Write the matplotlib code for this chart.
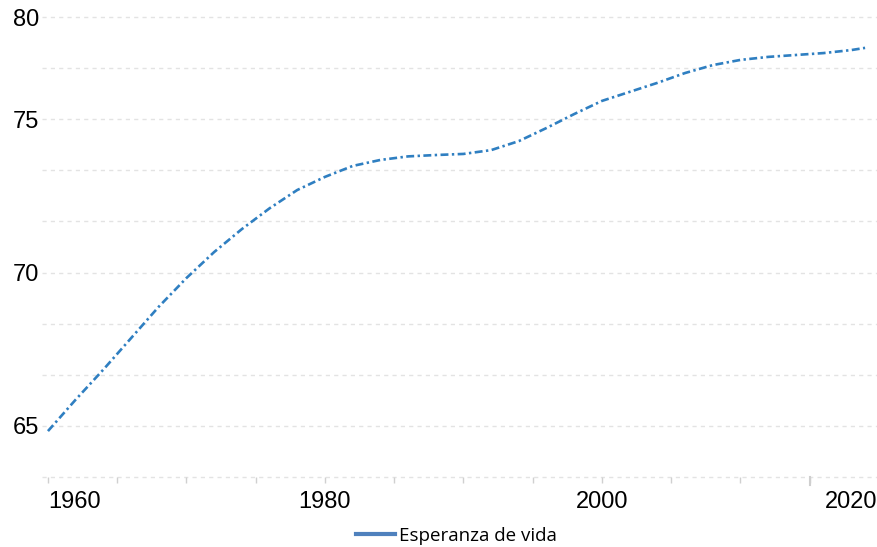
import numpy as np
import matplotlib
matplotlib.use("Agg")
import matplotlib.pyplot as plt

# Datos: esperanza de vida (años)
years = [1960, 1962, 1964, 1966, 1968, 1970, 1972, 1974, 1976, 1978,
         1980, 1982, 1984, 1986, 1988, 1990, 1992, 1994, 1996, 1998,
         2000, 2002, 2004, 2006, 2008, 2010, 2012, 2014, 2016, 2018, 2019]
life_exp = [64.85, 66.0, 67.1, 68.25, 69.4, 70.45, 71.4, 72.24, 73.0, 73.67,
            74.15, 74.55, 74.77, 74.9, 74.95, 74.99, 75.13, 75.46, 75.94, 76.45,
            76.93, 77.26, 77.59, 77.95, 78.24, 78.43, 78.54, 78.61, 78.68, 78.79, 78.87]
series_name = 'Esperanza de vida'

# Etiquetas del eje y tal como aparecen (sobre las líneas de la rejilla 0, 2, 5, 8)
ytick_labels = ['80', '75', '70', '65']
ytick_rows = [0, 2, 5, 8]
xtick_years = list(range(1960, 2016, 5))
xtick_shown = {1960: '1960', 1980: '1980', 2000: '2000'}
last_label = '2020'

plt.rcParams['font.family'] = ['Liberation Sans', 'DejaVu Sans']

fig = plt.figure(figsize=(8.77, 5.47), dpi=100)
ax = fig.add_axes([42 / 877, 70 / 547, 1 - 42 / 877, 460 / 547])

# escala: 80 arriba, rejilla de 10 líneas
grid_step = 1.87
grid_vals = 80 - grid_step * np.arange(10)
ax.set_ylim(grid_vals[-1], 80)
ax.set_xlim(1959.57, 2019.86)

for g in grid_vals:
    ax.axhline(g, color='#e3e3e3', lw=1.0, dashes=(3, 3), zorder=0, clip_on=False)

ax.plot(years, life_exp, color='#2f7fc1', lw=1.9,
        dashes=(3.0, 1.3, 0.9, 1.3), dash_capstyle='butt', zorder=3)

for s in ax.spines.values():
    s.set_visible(False)

ax.set_yticks([grid_vals[r] for r in ytick_rows])
ax.set_yticklabels(ytick_labels)
ax.tick_params(axis='y', length=0, pad=2, labelsize=17)

ax.set_xticks(xtick_years)
ax.set_xticklabels([xtick_shown.get(y, '') for y in xtick_years])
ax.tick_params(axis='x', which='major', length=4, width=1, color='#d0d0d0',
               pad=6, labelsize=17)
ax.get_xticklabels()[0].set_ha('left')
ax.text(1, -0.030, last_label, transform=ax.transAxes, ha='right', va='top',
        fontsize=17)
ax.axvline(2015, ymin=-0.018, ymax=0, color='#cfcfcf', lw=1.5, clip_on=False)

fig.legend([plt.Line2D([], [], color='#4f81bd', lw=3)], [series_name],
           loc='center', bbox_to_anchor=(456 / 877, 1 - 536 / 547),
           frameon=False, handlelength=2.1, handletextpad=0.2,
           prop={'family': ['Open Sans', 'DejaVu Sans'], 'size': 13.5})

fig.savefig('out.png', dpi=100)
